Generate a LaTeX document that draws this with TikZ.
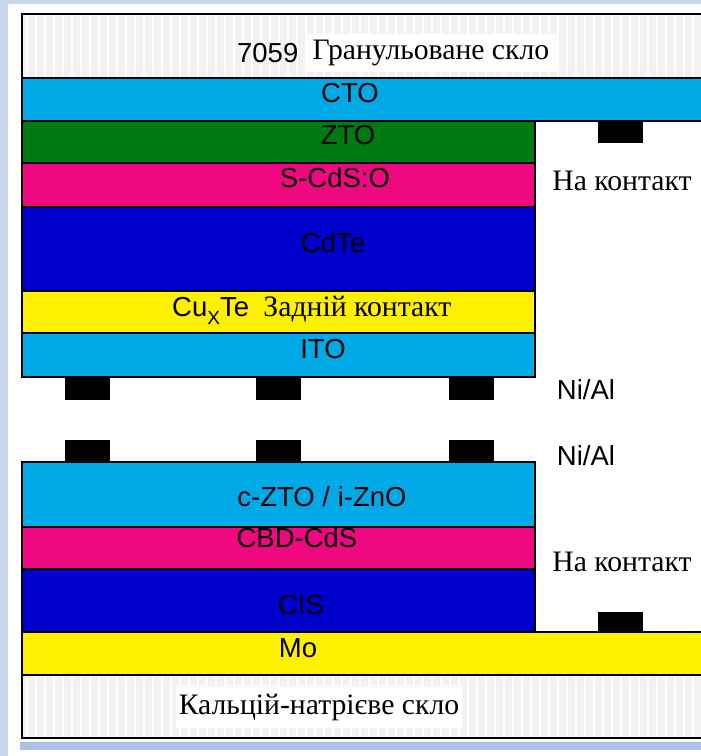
\documentclass[tikz,border=0pt]{standalone}
\usepackage{fontspec}
\setmainfont{Liberation Serif}
\setsansfont{Liberation Sans}
\usetikzlibrary{positioning}
\definecolor{tcoblue}{RGB}{0,170,230}
\definecolor{ztogreen}{RGB}{0,122,18}
\definecolor{cdsmag}{RGB}{240,8,128}
\definecolor{absblue}{RGB}{0,0,204}
\definecolor{backyel}{RGB}{255,240,0}
\definecolor{glassgray}{RGB}{242,242,242}
\definecolor{framelt}{RGB}{200,214,236}
\definecolor{framedk}{RGB}{168,196,224}

\begin{document}
\begin{tikzpicture}[
  x=1pt, y=-1pt,
  layer/.style={draw=black, line width=2.5pt},
  lbl/.style={font=\sffamily\fontsize{27.5}{30}\selectfont, inner sep=0pt},
  cyr/.style={font=\fontsize{29.7}{33}\selectfont, inner sep=0pt},
  pad/.style={fill=black}
]
\path[use as bounding box] (0,0) rectangle (701,756);
\clip (0,0) rectangle (701,756);
% frame
\fill[framelt] (0,0) rectangle (701,4);
\fill[framelt] (0,0) rectangle (8,756);
\fill[framedk] (20,742) rectangle (701,750);

% upper cell: CdTe on 7059 glass
\fill[glassgray] (22,14) rectangle (710,78);
\foreach \x in {27,36,...,701}
  \draw[white, line width=1.5pt] (\x,15) -- (\x,77);
\draw[layer] (22,14) rectangle (710,78);
\draw[layer, fill=tcoblue] (22,78) rectangle (710,121);
\foreach \top/\bot/\col in {121/163/ztogreen, 163/207/cdsmag, 207/291/absblue,
    291/333/backyel, 333/377/tcoblue}
  \draw[layer, fill=\col] (22,\top) rectangle (535,\bot);

% lower cell: CIS on soda-lime glass
\fill[glassgray] (22,675) rectangle (710,738);
\foreach \x in {27,36,...,701}
  \draw[white, line width=1.5pt] (\x,676) -- (\x,737);
\draw[layer] (22,675) rectangle (710,738);
\draw[layer, fill=backyel] (22,632) rectangle (710,675);
\foreach \top/\bot/\col in {462/527/tcoblue, 527/569/cdsmag, 569/632/absblue}
  \draw[layer, fill=\col] (22,\top) rectangle (535,\bot);

% Ni/Al grids and side contacts
\foreach \x in {65,256,449} {
  \fill[pad] (\x,378) rectangle +(45,22);
  \fill[pad] (\x,440) rectangle +(45,21);
}
\fill[pad] (598,122) rectangle +(45,21);
\fill[pad] (598,612) rectangle +(45,19);

% labels
\node[cyr, fill=white, inner xsep=8pt, inner ysep=6pt] (gran) at (431,53) {Гранульоване скло};
\node[lbl, left=6pt of gran] (num) {7059};
\node[lbl] (cto) at (350,93) {CTO};
\node[lbl] (zto) at (348,135) {ZTO};
\node[lbl] (scds) at (335,178) {S-CdS:O};
\node[lbl] (cdte) at (333,243) {CdTe};
\node[lbl, anchor=base west] (cuxte) at (172,316)
  {Cu\raisebox{-8pt}{\fontsize{19}{19}\selectfont X}Te};
\node[cyr, anchor=base west] (back) at ([xshift=14pt]cuxte.base east) {Задній контакт};
\node[lbl] (ito) at (323,349) {ITO};
\node[cyr] (ohmup) at (622,181) {На контакт};
\node[lbl] (niup) at (586,390) {Ni/Al};
\node[lbl] (nilow) at (586,456) {Ni/Al};
\node[lbl] (zno) at (322,497) {c-ZTO / i-ZnO};
\node[lbl] (cbd) at (297,538) {CBD-CdS};
\node[lbl] (cis) at (301,605) {CIS};
\node[lbl] (mo) at (298,648) {Mo};
\node[cyr] (ohmlow) at (622,562) {На контакт};
\node[cyr, fill=white, inner xsep=3pt, inner ysep=8pt] (slg) at (319,707) {Кальцій-натрієве скло};
\end{tikzpicture}
\end{document}
